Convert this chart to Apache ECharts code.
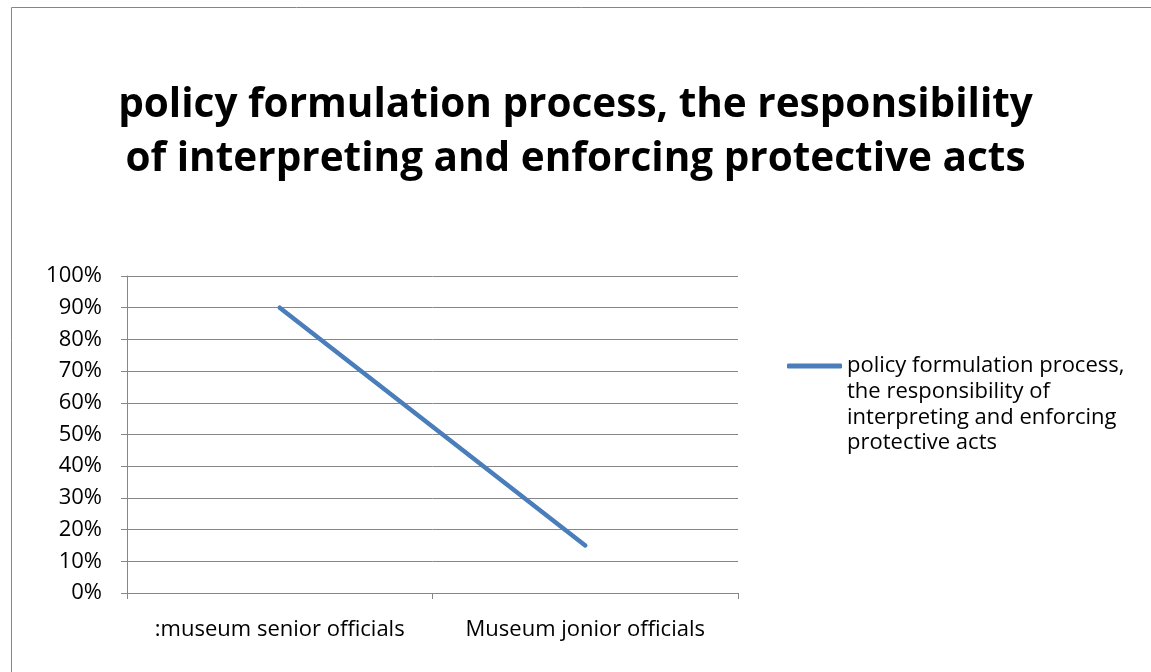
<!DOCTYPE html>
<html>
<head>
<meta charset="utf-8">
<script src="https://cdn.jsdelivr.net/npm/echarts@6/dist/echarts.min.js"></script>
<style>
  html, body { margin: 0; padding: 0; background: #fff; }
  #chart { width: 1151px; height: 672px; }
</style>
</head>
<body>
<div id="chart"></div>
<script>
// data
var categories = [':museum senior officials', 'Museum jonior officials'];
var seriesName = 'policy formulation process, the responsibility of interpreting and enforcing protective acts';
var values = [0.90, 0.15];
var legendLines = ['policy formulation process,', 'the responsibility of', 'interpreting and enforcing', 'protective acts'];

var chart = echarts.init(document.getElementById('chart'));
var fontName = '"Open Sans", "Noto Sans", sans-serif';

var option = {
  backgroundColor: '#fff',
  animation: false,
  title: {
    text: 'policy formulation process, the responsibility\nof interpreting and enforcing protective acts',
    left: 'center',
    top: 73,
    textStyle: {
      fontFamily: fontName,
      fontWeight: 'bold',
      fontSize: 40.5,
      lineHeight: 54,
      color: '#000'
    }
  },
  grid: {
    left: 127,
    right: 413,
    top: 276,
    bottom: 79
  },
  legend: {
    left: 787,
    top: 276,
    padding: 0,
    orient: 'vertical',
    icon: 'roundRect',
    itemWidth: 55,
    itemHeight: 5,
    itemGap: 0,
    // 3 blank lines up front so the first text line sits level with the icon
    formatter: function () { return '\n\n\n' + legendLines.join('\n'); },
    textStyle: {
      fontFamily: fontName,
      fontSize: 22,
      lineHeight: 25.7,
      color: '#000'
    }
  },
  xAxis: {
    type: 'category',
    data: categories,
    boundaryGap: true,
    axisLine: { lineStyle: { color: '#868686', width: 1 } },
    axisTick: { show: true, length: 6, lineStyle: { color: '#868686' } },
    axisLabel: {
      interval: 0,
      hideOverlap: false,
      color: '#000',
      fontFamily: fontName,
      fontSize: 22,
      margin: 26
    },
    splitLine: { show: false }
  },
  yAxis: {
    type: 'value',
    min: 0,
    max: 1,
    interval: 0.1,
    axisLine: { show: true, lineStyle: { color: '#868686', width: 1 } },
    axisTick: { show: true, length: 6, lineStyle: { color: '#868686' } },
    axisLabel: {
      color: '#000',
      fontFamily: fontName,
      fontSize: 22,
      margin: 25,
      formatter: function (v) { return Math.round(v * 100) + '%'; }
    },
    splitLine: { show: true, lineStyle: { color: '#868686', width: 1 } }
  },
  series: [{
    name: seriesName,
    type: 'line',
    data: values,
    symbol: 'none',
    lineStyle: { color: '#4a7ebb', width: 4.5, cap: 'round' },
    itemStyle: { color: '#4a7ebb' }
  }],
  graphic: [{
    type: 'rect',
    shape: { x: 11.5, y: 7.5, width: 1160, height: 700 },
    style: { fill: 'none', stroke: '#868686', lineWidth: 1 },
    silent: true
  }]
};

chart.setOption(option);
</script>
</body>
</html>
